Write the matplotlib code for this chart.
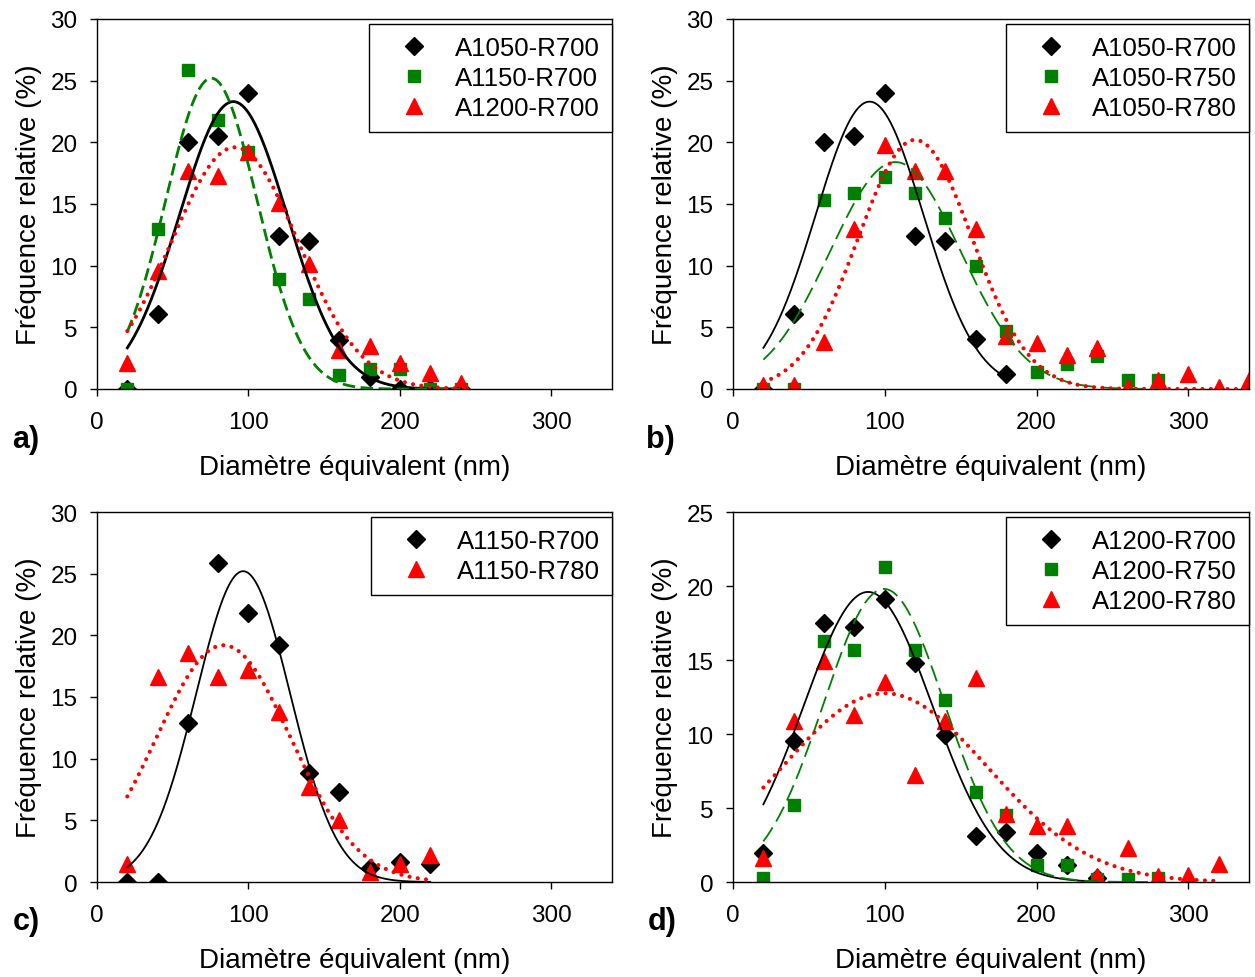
import numpy as np
import matplotlib.pyplot as plt
from matplotlib.lines import Line2D

plt.rcParams['font.family'] = ['Liberation Sans', 'DejaVu Sans']
plt.rcParams['lines.scale_dashes'] = False

# ---- data (diameter in nm, relative frequency in %) ----
# a)
a_labels = ['A1050-R700', 'A1150-R700', 'A1200-R700']
a_x = [20, 40, 60, 80, 100, 120, 140, 160, 180, 200, 220, 240]
a_black = [0, 6.1, 20, 20.5, 24, 12.4, 12, 4.0, 1.0, 0, 0, 0]
a_green = [0, 13, 25.9, 21.8, 19.2, 8.9, 7.3, 1.1, 1.6, 1.6, 0, 0]
a_red = [2.1, 9.6, 17.7, 17.3, 19.2, 15.1, 10.1, 3.2, 3.5, 2.1, 1.3, 0.5]
# gaussian fits: amplitude, centre, width, last x
a_fit_amp = [23.3, 25.2, 19.6]
a_fit_mu = [90, 75.5, 91]
a_fit_sig = [35.5, 30.2, 42]
a_fit_end = [240, 240, 240]

# b)
b_labels = ['A1050-R700', 'A1050-R750', 'A1050-R780']
b_x_black = [20, 40, 60, 80, 100, 120, 140, 160, 180]
b_black = [0, 6.1, 20, 20.5, 24, 12.4, 12, 4.05, 1.2]
b_x_green = [20, 40, 60, 80, 100, 120, 140, 160, 180, 200, 220, 240, 260, 280]
b_green = [0, 0, 15.3, 15.9, 17.2, 15.9, 13.9, 10.0, 4.7, 1.4, 2.0, 2.7, 0.75, 0.75]
b_x_red = [20, 40, 60, 80, 100, 120, 140, 160, 180, 200, 220, 240, 260, 280,
           300, 320, 340]
b_red = [0.3, 0.3, 3.8, 13.0, 19.8, 17.7, 17.7, 13.0, 4.3, 3.7, 2.75, 3.3, 0.2,
         0.7, 1.2, 0.2, 0.7]
b_fit_amp = [23.3, 18.4, 20.2]
b_fit_mu = [90, 107, 120]
b_fit_sig = [35.5, 43, 37.5]
b_fit_end = [180, 280, 340]

# c)
c_labels = ['A1150-R700', 'A1150-R780']
c_x = [20, 40, 60, 80, 100, 120, 140, 160, 180, 200, 220]
c_black = [0, 0, 12.9, 25.9, 21.8, 19.2, 8.8, 7.3, 1.1, 1.65, 1.5]
c_red = [1.45, 16.6, 18.6, 16.6, 17.2, 13.8, 7.7, 5.0, 0.8, 1.5, 2.2]
c_fit_amp = [25.2, 19.2]
c_fit_mu = [96.5, 83.5]
c_fit_sig = [31, 44.5]
c_fit_end = [220, 220]

# d)
d_labels = ['A1200-R700', 'A1200-R750', 'A1200-R780']
d_x_black = [20, 40, 60, 80, 100, 120, 140, 160, 180, 200, 220, 240]
d_black = [1.95, 9.55, 17.5, 17.2, 19.1, 14.8, 9.9, 3.1, 3.4, 1.95, 1.15, 0.3]
d_x_green = [20, 40, 60, 80, 100, 120, 140, 160, 180, 200, 220, 240, 260, 280]
d_green = [0.25, 5.2, 16.3, 15.7, 21.3, 15.7, 12.3, 6.05, 4.5, 1.15, 1.15, 0.2,
           0.2, 0.25]
d_x_red = [20, 40, 60, 80, 100, 120, 140, 160, 180, 200, 220, 240, 260, 280,
           300, 320]
d_red = [1.6, 10.9, 14.95, 11.3, 13.5, 7.2, 10.9, 13.8, 4.6, 3.8, 3.8, 0.43,
         2.3, 0.4, 0.5, 1.2]
d_fit_amp = [19.6, 19.8, 12.75]
d_fit_mu = [89, 99.5, 100]
d_fit_sig = [42.5, 40, 68]
d_fit_end = [240, 280, 320]

# ---- styles ----
GREEN = '#008000'
RED = '#ff0000'
mk = {'k': dict(marker='D', color='black', ms=8.8),
      'g': dict(marker='s', color=GREEN, ms=9),
      'r': dict(marker='^', color=RED, ms=11)}


def line_style(key, thick):
    if key == 'k':
        return dict(color='black', lw=2.0 if thick else 1.3, ls='-')
    if key == 'g':
        if thick:
            return dict(color=GREEN, lw=2.0, ls=(0, (9, 4)))
        return dict(color=GREEN, lw=1.3, ls=(0, (12, 5)))
    return dict(color=RED, lw=3.0, ls=(0, (0.01, 6)), dash_capstyle='round')


W, H = 1255, 978
fig = plt.figure(figsize=(W / 100, H / 100), dpi=100)


def make_ax(left, top, bottom, right):
    return fig.add_axes([left / W, 1 - bottom / H, (right - left) / W, (bottom - top) / H])


def panel(ax, series, fits, labels, ymax, letter, lx, ly, thick=False):
    for (xs, ys, key) in series:
        ax.plot(xs, ys, ls='none', zorder=2, **mk[key])
    for (amp, mu, sig, end, key) in fits:
        xf = np.linspace(20, end, 300)
        ax.plot(xf, amp * np.exp(-(xf - mu) ** 2 / (2 * sig ** 2)), zorder=3,
                **line_style(key, thick))
    ax.set_xlim(0, 340)
    ax.set_ylim(0, ymax)
    ax.set_xticks([0, 100, 200, 300])
    ax.set_yticks(np.arange(0, ymax + 1, 5))
    ax.tick_params(direction='out', length=5, width=1, labelsize=17.5, pad=9)
    ax.tick_params(axis='x', pad=11)
    for s in ax.spines.values():
        s.set_linewidth(1)
    ax.set_xlabel('Diamètre équivalent (nm)', fontsize=20, labelpad=15)
    ax.set_ylabel('Fréquence relative (%)', fontsize=20, labelpad=6)
    handles = [Line2D([], [], ls='none', **mk[key]) for (_, _, key) in series]
    leg = ax.legend(handles, labels, loc='upper right', bbox_to_anchor=(1.0, 0.987),
                    borderaxespad=0, fontsize=18.5, handlelength=2.55, handletextpad=0.3,
                    borderpad=0.48, labelspacing=0.23, fancybox=False, framealpha=1,
                    edgecolor='black')
    leg.get_frame().set_linewidth(1)
    fig.text(lx / W, 1 - ly / H, letter, fontsize=22, fontweight='bold',
             ha='center', va='center')


ax_a = make_ax(97, 20, 390, 612)
panel(ax_a,
      [(a_x, a_black, 'k'), (a_x, a_green, 'g'), (a_x, a_red, 'r')],
      [(a_fit_amp[i], a_fit_mu[i], a_fit_sig[i], a_fit_end[i], k) for i, k in enumerate('kgr')],
      a_labels, 30, 'a)', 26, 440, thick=True)

ax_b = make_ax(733, 20, 390, 1249)
panel(ax_b,
      [(b_x_black, b_black, 'k'), (b_x_green, b_green, 'g'), (b_x_red, b_red, 'r')],
      [(b_fit_amp[i], b_fit_mu[i], b_fit_sig[i], b_fit_end[i], k) for i, k in enumerate('kgr')],
      b_labels, 30, 'b)', 660, 440)

ax_c = make_ax(97, 513, 883, 612)
panel(ax_c,
      [(c_x, c_black, 'k'), (c_x, c_red, 'r')],
      [(c_fit_amp[i], c_fit_mu[i], c_fit_sig[i], c_fit_end[i], k) for i, k in enumerate('kr')],
      c_labels, 30, 'c)', 26, 922)

ax_d = make_ax(733, 513, 883, 1249)
panel(ax_d,
      [(d_x_black, d_black, 'k'), (d_x_green, d_green, 'g'), (d_x_red, d_red, 'r')],
      [(d_fit_amp[i], d_fit_mu[i], d_fit_sig[i], d_fit_end[i], k) for i, k in enumerate('kgr')],
      d_labels, 25, 'd)', 662, 922)

fig.savefig('out.png', dpi=100)
